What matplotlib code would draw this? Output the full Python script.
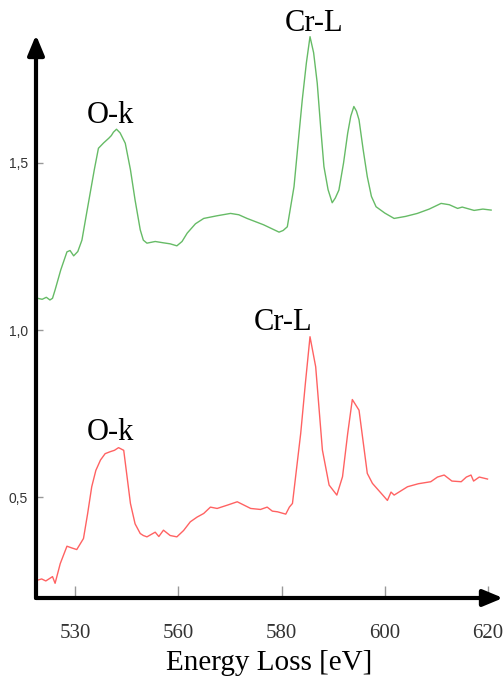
import matplotlib.pyplot as plt

# green spectrum (top)
e_green = [532.7, 533.6, 534.4, 535.1, 535.6, 536.1, 537.2, 538.4, 539.0, 539.7, 540.5, 541.3,
           542.1, 542.9, 543.7, 544.5, 545.5, 546.5, 547.0, 547.4, 548.0, 548.7, 549.7, 550.7,
           551.6, 552.6, 553.2, 553.9, 555.5, 557.1, 558.4, 559.7, 560.7, 561.7, 563.3, 564.9,
           567.5, 570.1, 571.7, 573.3, 576.5, 579.5, 580.3, 581.1, 582.4, 583.2, 584.0, 584.8,
           585.5, 586.2, 586.9, 587.6, 588.2, 589.0, 589.8, 590.4, 591.1, 592.0, 592.8, 593.4,
           594.0, 594.5, 595.0, 595.8, 596.6, 597.4, 598.3, 600.0, 601.8, 604.0, 606.3, 608.6,
           610.9, 612.5, 614.1, 615.0, 617.3, 619.0, 620.6]
i_green = [1.095, 1.092, 1.098, 1.090, 1.095, 1.120, 1.180, 1.234, 1.238, 1.222, 1.235, 1.269,
           1.340, 1.410, 1.480, 1.544, 1.560, 1.574, 1.582, 1.592, 1.601, 1.590, 1.559, 1.480,
           1.389, 1.300, 1.269, 1.260, 1.265, 1.261, 1.258, 1.252, 1.265, 1.290, 1.318, 1.334,
           1.342, 1.349, 1.345, 1.334, 1.315, 1.293, 1.298, 1.309, 1.429, 1.560, 1.689, 1.800,
           1.878, 1.830, 1.739, 1.600, 1.489, 1.420, 1.381, 1.395, 1.419, 1.500, 1.589, 1.640,
           1.669, 1.655, 1.629, 1.540, 1.459, 1.400, 1.369, 1.350, 1.334, 1.340, 1.349, 1.362,
           1.379, 1.375, 1.364, 1.368, 1.358, 1.362, 1.359]

# red spectrum (bottom)
e_red = [532.6, 533.5, 534.3, 535.1, 535.6, 536.1, 537.1, 538.4, 539.3, 540.3, 541.6, 542.4,
         543.2, 544.0, 544.9, 545.8, 546.8, 547.6, 548.4, 549.4, 550.7, 551.6, 552.6, 553.2,
         553.9, 555.5, 556.2, 557.1, 558.4, 559.7, 561.0, 562.3, 563.6, 564.9, 566.2, 567.5,
         569.5, 571.4, 572.7, 574.0, 575.9, 577.2, 578.2, 579.2, 580.8, 581.5, 582.1, 583.7,
         584.6, 585.5, 586.6, 587.9, 589.2, 590.7, 591.8, 592.8, 593.7, 595.0, 596.6, 597.6,
         599.6, 600.5, 601.2, 601.8, 604.4, 606.5, 608.9, 610.2, 611.5, 613.0, 614.8, 615.8,
         616.7, 617.2, 618.3, 619.9]
i_red = [0.251, 0.255, 0.249, 0.257, 0.262, 0.242, 0.301, 0.353, 0.348, 0.343, 0.376, 0.450,
         0.531, 0.580, 0.611, 0.630, 0.636, 0.640, 0.648, 0.640, 0.481, 0.420, 0.391, 0.385,
         0.381, 0.395, 0.382, 0.401, 0.385, 0.381, 0.400, 0.426, 0.440, 0.451, 0.470, 0.466,
         0.476, 0.486, 0.476, 0.466, 0.463, 0.470, 0.458, 0.456, 0.449, 0.470, 0.481, 0.691,
         0.840, 0.980, 0.890, 0.641, 0.536, 0.506, 0.561, 0.690, 0.792, 0.760, 0.571, 0.541,
         0.506, 0.490, 0.515, 0.506, 0.531, 0.540, 0.546, 0.560, 0.566, 0.548, 0.546, 0.560,
         0.566, 0.548, 0.560, 0.554]

xtick_pos = [540, 560, 580, 600, 620]
xtick_labels = ["530", "560", "580", "600", "620"]
ytick_pos = [0.5, 1.0, 1.5]
ytick_labels = ["0,5", "1,0", "1,5"]

fig = plt.figure(figsize=(5.03, 6.84), dpi=100)
ax = fig.add_axes([36 / 503, 86 / 684, 467 / 503, 563 / 684])
ax.set_xlim(532.4, 622.9)
ax.set_ylim(0.198, 1.883)
for s in ax.spines.values():
    s.set_visible(False)

ax.plot(e_green, i_green, color="#66bb66", lw=1)
ax.plot(e_red, i_red, color="#ff6262", lw=1)

# axes with arrows
ax.annotate("", xy=(1.0, 0), xytext=(0, 0), xycoords="axes fraction",
            arrowprops=dict(arrowstyle="-|>,head_length=1.2,head_width=0.5", color="black", lw=3,
                            shrinkA=0, shrinkB=0))
ax.annotate("", xy=(0, 1.0), xytext=(0, 0), xycoords="axes fraction",
            arrowprops=dict(arrowstyle="-|>,head_length=1.2,head_width=0.5", color="black", lw=3,
                            shrinkA=0, shrinkB=0))

ax.set_xticks(xtick_pos)
ax.set_xticklabels(xtick_labels, family="Liberation Serif", fontsize=15, color="#333333")
ax.set_yticks(ytick_pos)
ax.set_yticklabels(ytick_labels, family="Liberation Sans", fontsize=10, color="#333333")
ax.tick_params(axis="x", direction="in", length=9, width=1, color="#999999", pad=19)
ax.tick_params(axis="y", direction="in", length=5, width=1, color="#999999", pad=6)
ax.set_xlabel("Energy Loss [eV]", family="Liberation Serif", fontsize=21, labelpad=5)

txt = dict(family="Liberation Serif", fontsize=22, ha="center", va="bottom")
ax.text(546.9, 1.60, "O-k", **txt)
ax.text(586.3, 1.875, "Cr-L", **txt)
ax.text(546.9, 0.65, "O-k", **txt)
ax.text(580.3, 0.98, "Cr-L", **txt)

fig.savefig("out.png", dpi=100)
